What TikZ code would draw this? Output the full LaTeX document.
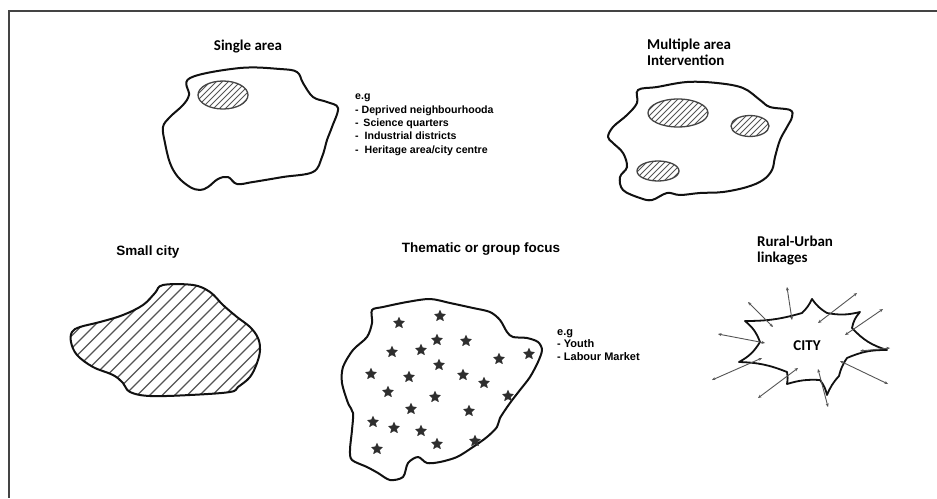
\documentclass[tikz,border=0pt]{standalone}
\usepackage{fontspec}
\usetikzlibrary{shapes.geometric,arrows.meta}
\newfontfamily\titlefont{Carlito}
\newfontfamily\egfont{Liberation Sans}
\definecolor{framecol}{HTML}{444444}
\definecolor{inkcol}{HTML}{111111}
\definecolor{hatchcol}{HTML}{555555}
\definecolor{starcol}{HTML}{2E2E2E}
\newcommand\hatchell[4]{%
  \begin{scope}
    \clip (#1,#2) ellipse [x radius=#3, y radius=#4];
    \foreach \k in {-44,-38,...,44} \draw[ehatch] ({#1+\k-20},{#2+20}) -- ++(40,-40);
  \end{scope}
  \draw[eline] (#1,#2) ellipse [x radius=#3, y radius=#4];}
\tikzset{
  frameline/.style={draw=framecol, line width=2.2pt},
  blob/.style={draw=inkcol, line width=2pt, line join=round},
  ehatch/.style={draw=hatchcol, line width=0.9pt},
  eline/.style={draw=hatchcol!80!black, line width=1.3pt},
  bighatch/.style={draw=hatchcol, line width=1.1pt},
  title/.style={font=\titlefont\bfseries\fontsize{15}{16}\selectfont, inner sep=0pt, align=left},
  titleb/.style={font=\egfont\bfseries\fontsize{13.5}{16}\selectfont, inner sep=0pt, align=center},
  eg/.style={font=\egfont\bfseries\fontsize{10.6}{13.3}\selectfont, inner sep=0pt, align=left, anchor=north west},
  eg2/.style={font=\egfont\bfseries\fontsize{11}{12.5}\selectfont, inner sep=0pt, align=left, anchor=north west},
  person/.style={star, star points=5, star point ratio=2.1, fill=starcol, draw=starcol, minimum size=11.5pt, inner sep=0pt},
  link/.style={draw=hatchcol, line width=0.9pt, {Stealth[length=3.5pt,width=3pt]}-{Stealth[length=3.5pt,width=3pt]}},
}
\begin{document}
\begin{tikzpicture}[x=1pt,y=-1pt]
\useasboundingbox (0,0) rectangle (937,498);
\fill[white] (0,0) rectangle (937,498);
% frame
\coordinate (fr) at (937,11);
\coordinate (fc) at (9,11);
\coordinate (fb) at (9,498);
\draw[frameline] (fr) -- (fc) -- (fb);

% ---------- Single area
\node[title, anchor=center] (t1) at (248,47) {Single area};
\draw[blob] plot[smooth cycle, tension=0.6] coordinates {
 (190,78) (240,68) (280,69) (297,72) (303,83) (313,97) (327,102) (338,108)
 (332,127) (327,140) (322,157) (313,172) (283,177) (253,182) (237,184)
 (228,177) (218,179) (208,187) (200,190) (190,187) (178,177) (170,163)
 (165,143) (163,127) (170,117) (183,105) (189,95)};
\hatchell{223}{95}{25}{14}
\node[eg] (eg1) at (355,94) {e.g\\- Deprived neighbourhooda\\- \,Science quarters\\- \ Industrial districts\\- \ Heritage area/city centre};

% ---------- Multiple area
\node[title, anchor=north west] (t2) at (647,39) {Multiple area\\Intervention};
\draw[blob] plot[smooth cycle, tension=0.6] coordinates {
 (638,90) (657,87) (687,82) (717,83) (743,88) (760,100) (770,107) (790,110)
 (792,117) (787,127) (780,140) (775,157) (772,170) (763,180) (747,187)
 (723,192) (700,193) (680,195) (667,193) (652,200) (640,198) (623,190)
 (620,177) (627,167) (623,153) (613,143) (608,137) (613,127) (627,115) (637,103)};
\hatchell{678}{113}{30}{14}
\hatchell{750}{126}{19}{10.5}
\hatchell{658}{171}{21}{10}

% ---------- Small city
\node[titleb, anchor=center] (t3) at (148,252) {Small city};
\begin{scope}
\clip plot[smooth cycle, tension=0.6] coordinates {
 (72,332) (80,327) (100,322) (123,315) (143,305) (155,293) (163,285) (193,285)
 (210,292) (223,305) (237,317) (250,327) (258,338) (260,350) (257,363)
 (250,377) (238,387) (230,392) (190,395) (150,396) (130,392) (123,383)
 (113,375) (93,367) (77,355) (71,342)};
\foreach \k in {0,12.5,...,400} \draw[bighatch] ({\k-100},420) -- ++(160,-160);
\end{scope}
\draw[blob] plot[smooth cycle, tension=0.6] coordinates {
 (72,332) (80,327) (100,322) (123,315) (143,305) (155,293) (163,285) (193,285)
 (210,292) (223,305) (237,317) (250,327) (258,338) (260,350) (257,363)
 (250,377) (238,387) (230,392) (190,395) (150,396) (130,392) (123,383)
 (113,375) (93,367) (77,355) (71,342)};

% ---------- Thematic
\node[titleb, anchor=center] (t4) at (481,249) {Thematic or group focus};
\draw[blob] plot[smooth cycle, tension=0.5] coordinates {
 (372,310) (383,307) (407,302) (430,299) (450,303) (473,308) (490,312)
 (500,320) (507,332) (513,337) (527,338) (538,342) (542,350) (538,362)
 (530,377) (520,390) (510,403) (500,418) (497,427) (487,437) (473,447)
 (457,457) (440,462) (427,463) (418,457) (408,463) (403,477) (390,480)
 (378,473) (367,467) (352,460) (350,450) (352,430) (353,413) (348,403)
 (342,383) (343,367) (353,350) (367,337) (372,323)};
\foreach \p [count=\i] in {(399,323),(440,316),(437,340),(466,341),(392,352),
 (421,350),(439,365),(499,359),(529,354),(371,374),(409,377),(463,375),
 (484,383),(388,392),(435,397),(508,396),(411,409),(469,411),(373,422),
 (394,428),(421,431),(437,444),(475,441),(377,449)}
 \node[person] (s\i) at \p {};
\node[eg2] (eg2) at (557,329) {e.g\\- Youth\\- Labour Market};

% ---------- Rural-Urban
\node[title, anchor=north west] (t5) at (757,236) {Rural-Urban\\linkages};
\draw[blob, line width=1.8pt] (745,321) to[bend right=8] (802,313) to[bend right=10] (812,299)
 to[bend right=12] (827,313) to[bend right=12] (860,312)
 to[bend right=15] (852,328) to[bend right=15] (887,350)
 to[bend right=12] (847,358) to[bend right=10] (839,376) to[bend right=10] (827,395)
 to[bend right=12] (820,380) to[bend right=10] (787,384)
 to[bend right=10] (787,372) to[bend right=10] (739,362)
 to[bend right=15] (760,342) to[bend right=15] cycle;
\node[font=\titlefont\bfseries\fontsize{15}{16}\selectfont, inner sep=0pt] (city) at (807,346) {CITY};
\foreach \ax/\ay/\bx/\by [count=\i] in {787/287/792/320, 748/302/773/327, 857/293/818/323,
  883/309/845/335, 718/334/765/343, 890/348/860/351, 712/380/762/358,
  888/384/840/361, 758/398/798/368, 828/407/818/369}{
  \coordinate (la\i) at (\ax,\ay);
  \coordinate (lb\i) at (\bx,\by);
}
\foreach \i in {1,...,10} \draw[link] (la\i) -- (lb\i);
\end{tikzpicture}
\end{document}
